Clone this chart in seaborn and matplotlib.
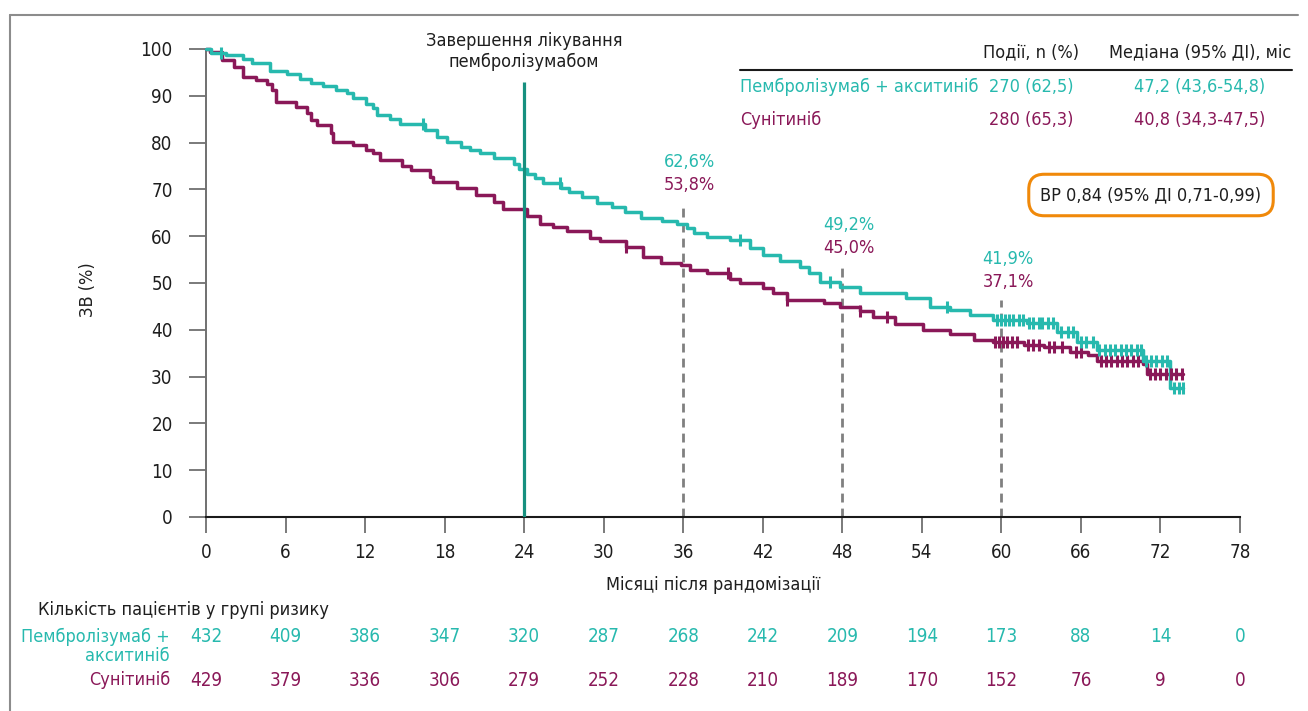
import numpy as np
import pandas as pd
import matplotlib
matplotlib.use("Agg")
import matplotlib.pyplot as plt
import matplotlib.transforms as mtransforms
from matplotlib import font_manager as fm
from matplotlib.lines import Line2D
import seaborn as sns

# ---------------- data ----------------
arm_names = ["Пембролізумаб + акситиніб", "Сунітиніб"]

pa_times = [0, 0.4, 1.5, 2.8, 3.5, 4.8, 6.1, 7.1, 7.9, 8.85, 9.8, 10.6, 11.1, 12.1, 12.6,
            12.9, 13.9, 14.6, 16.5, 17.4, 18.2, 19.2, 19.9, 20.7, 21.7, 23.2, 23.6, 24.2,
            24.8, 25.4, 26.8, 27.4, 28.4, 29.5, 30.6, 31.6, 32.8, 34.4, 35.5, 36.3, 36.8,
            37.8, 39.5, 41.0, 42.0, 43.3, 44.8, 45.5, 46.3, 47.8, 49.3, 52.8, 54.6, 56.1,
            57.6, 59.4, 61.9, 64.2, 65.7, 67.2, 70.7, 72.7]
pa_surv = [100, 99.2, 98.7, 97.8, 97.0, 95.2, 94.6, 93.5, 92.7, 92.0, 91.2, 90.5, 89.5, 88.3,
           87.3, 86.0, 85.0, 83.9, 82.7, 81.2, 80.1, 79.1, 78.4, 77.7, 76.7, 75.5, 74.4, 73.2,
           72.5, 71.3, 70.3, 69.5, 68.4, 67.0, 66.3, 65.2, 63.8, 63.2, 62.6, 61.8, 60.6,
           59.9, 59.2, 57.5, 56.0, 54.6, 53.5, 52.2, 50.2, 49.2, 47.8, 46.8, 44.9, 44.2,
           43.2, 42.1, 41.4, 39.6, 37.5, 35.7, 33.3, 27.6]
pa_censor = [1.1, 16.4, 26.7, 40.3, 47.1, 55.9, 59.7, 60.0, 60.3, 60.6, 60.9, 61.3, 61.6,
             62.1, 62.4, 62.8, 63.1, 63.5, 63.9, 64.5, 65.0, 65.4, 66.0, 66.4, 66.9, 67.4,
             67.8, 68.2, 68.6, 69.0, 69.4, 69.8, 70.2, 70.5, 70.9, 71.3, 71.7, 72.1, 72.5,
             73.0, 73.4, 73.7]

su_times = [0, 0.3, 1.2, 2.1, 2.8, 3.8, 4.6, 5.0, 5.3, 6.8, 7.6, 7.9, 8.4, 9.4, 9.6, 11.1,
            12.1, 12.6, 13.1, 14.8, 15.5, 16.9, 17.1, 18.9, 20.4, 21.7, 22.4, 24.2, 25.2,
            26.2, 27.2, 29.0, 29.7, 31.7, 33.0, 34.3, 35.8, 36.5, 37.8, 39.5, 40.3, 42.0,
            42.8, 43.8, 46.6, 47.8, 49.3, 50.3, 52.0, 54.1, 56.1, 57.9, 59.4, 61.7, 63.2,
            65.2, 66.5, 67.2, 70.7, 71.0]
su_surv = [100, 99.4, 97.6, 96.2, 94.0, 93.4, 92.5, 91.3, 88.7, 87.6, 86.4, 84.8, 83.8, 82.0,
           80.1, 79.5, 78.5, 77.8, 76.3, 75.0, 74.1, 72.6, 71.6, 70.3, 68.8, 67.3, 65.8,
           64.3, 62.6, 62.0, 61.1, 59.6, 59.0, 57.7, 55.6, 54.2, 53.8, 52.8, 52.1, 50.9,
           49.9, 48.9, 47.8, 46.4, 45.7, 44.9, 44.0, 42.7, 41.2, 40.0, 39.1, 37.8, 37.5,
           36.8, 36.3, 35.3, 34.6, 33.3, 32.6, 30.5]
su_censor = [31.7, 39.4, 43.8, 49.3, 51.4, 59.5, 59.8, 60.1, 60.4, 60.8, 61.2, 62.0, 62.4,
             62.8, 63.6, 64.0, 64.6, 65.6, 66.0, 67.5, 67.9, 68.3, 68.7, 69.1, 69.5, 69.9,
             70.3, 71.2, 71.6, 72.0, 72.4, 72.8, 73.2, 73.6]

followup_end = [73.7, 73.7]

landmark_months = [36, 48, 60]
landmark_pa = [62.6, 49.2, 41.9]
landmark_su = [53.8, 45.0, 37.1]
landmark_pa_lbl = ["62,6%", "49,2%", "41,9%"]
landmark_su_lbl = ["53,8%", "45,0%", "37,1%"]

stop_month = 24
stop_label = "Завершення лікування\nпембролізумабом"

events_lbl = ["270 (62,5)", "280 (65,3)"]
median_lbl = ["47,2 (43,6-54,8)", "40,8 (34,3-47,5)"]
hr_label = "ВР 0,84 (95% ДІ 0,71-0,99)"

risk_months = list(range(0, 79, 6))
risk_pa = [432, 409, 386, 347, 320, 287, 268, 242, 209, 194, 173, 88, 14, 0]
risk_su = [429, 379, 336, 306, 279, 252, 228, 210, 189, 170, 152, 76, 9, 0]

x_ticks = list(range(0, 79, 6))
y_ticks = list(range(0, 101, 10))

# ---------------- style ----------------
TEAL = "#27b9ae"
PURPLE = "#8a1858"
DARKTEAL = "#17907f"
ORANGE = "#f0890a"
GREY = "#808080"
TXT = "#1e1e1e"

sns.set_theme(style="white")

# pick a condensed face if one is installed, otherwise a narrow-ish sans
COND = ("condensed", "semi-condensed", "extra-condensed", "ultra-condensed")
pref = ["DejaVu Sans", "Liberation Sans Narrow", "Roboto Condensed", "Noto Sans",
        "Open Sans", "Roboto", "Lato", "Inter"]
cond_fonts = [f for f in fm.fontManager.ttflist
              if (str(f.stretch) in COND or "Narrow" in f.name or "Condensed" in f.name)
              and "Mono" not in f.name and "Serif" not in f.name]
cond_fonts.sort(key=lambda f: pref.index(f.name) if f.name in pref else 99)
if cond_fonts:
    main_font = cond_fonts[0].name
    plt.rcParams["font.stretch"] = cond_fonts[0].stretch
    FS = 13
else:
    main_font = "Roboto"
    FS = 12.5
plt.rcParams["font.family"] = [main_font, "DejaVu Sans"]

W, H = 1308, 711
fx = lambda px: px / W
fy = lambda py: 1 - py / H

fig = plt.figure(figsize=(W / 100, H / 100), dpi=100)
ax = fig.add_axes([fx(206), fy(517), (1240 - 206) / W, (517 - 49) / H])


def km_frame(times, surv, end, arm):
    t = list(times) + [end]
    s = list(surv) + [surv[-1]]
    return pd.DataFrame({"month": t, "surv": s, "arm": arm})


def censor_frame(times, surv, ctimes, arm):
    idx = np.searchsorted(np.asarray(times), np.asarray(ctimes), side="right") - 1
    return pd.DataFrame({"month": ctimes, "surv": np.asarray(surv)[idx], "arm": arm})


km = pd.concat([km_frame(pa_times, pa_surv, followup_end[0], arm_names[0]),
                km_frame(su_times, su_surv, followup_end[1], arm_names[1])])
cens = [censor_frame(pa_times, pa_surv, pa_censor, arm_names[0]),
        censor_frame(su_times, su_surv, su_censor, arm_names[1])]
palette = {arm_names[0]: TEAL, arm_names[1]: PURPLE}

for arm in [arm_names[1], arm_names[0]]:
    sns.lineplot(data=km[km["arm"] == arm], x="month", y="surv", color=palette[arm],
                 drawstyle="steps-post", estimator=None, sort=False, lw=2.5,
                 legend=False, ax=ax, clip_on=False, zorder=3)
for cdf, col in [(cens[1], PURPLE), (cens[0], TEAL)]:
    sns.scatterplot(data=cdf, x="month", y="surv", color=col, marker="|", s=80,
                    linewidth=2.2, legend=False, ax=ax, clip_on=False, zorder=4)

# treatment-stop line
ax.vlines(stop_month, 0, 93, color=DARKTEAL, lw=2.3, zorder=5)
ax.text(stop_month, 95.3, stop_label, ha="center", va="bottom", fontsize=FS,
        color=TXT, linespacing=1.2)

# landmark dashed lines and labels
for m, p, s, pl, sl in zip(landmark_months, landmark_pa, landmark_su,
                           landmark_pa_lbl, landmark_su_lbl):
    ax.vlines(m, 0, p + 4.5, color=GREY, lw=2.0, linestyles=(0, (3.2, 2.2)), zorder=2)
    ax.text(m + 0.5, p + 8.3, sl, ha="center", va="center", fontsize=FS, color=PURPLE)
    ax.text(m + 0.5, p + 13.3, pl, ha="center", va="center", fontsize=FS, color=TEAL)

# axes styling
ax.set_xlim(0, 78)
ax.set_ylim(0, 100)
ax.set_xticks(x_ticks)
ax.set_yticks(y_ticks)
ax.set_xlabel("")
ax.set_ylabel("")
for sp in ["top", "right"]:
    ax.spines[sp].set_visible(False)
ax.spines["left"].set_color("#707070")
ax.spines["left"].set_linewidth(1.4)
ax.spines["bottom"].set_color("#1a1a1a")
ax.spines["bottom"].set_linewidth(1.5)
ax.tick_params(axis="y", direction="out", length=12, width=1.3, color="#707070",
               pad=12, labelsize=FS + 0.5, labelcolor=TXT, left=True)
ax.tick_params(axis="x", direction="out", length=11.5, width=1.3, color="#707070",
               pad=7, labelsize=FS + 0.5, labelcolor=TXT, bottom=True)
ax.grid(False)
ax.set_facecolor("none")

fig.text(fx(88), fy(290), "ЗВ (%)", rotation=90, ha="center", va="center",
         fontsize=FS, color=TXT)
fig.text(fx(713), fy(585), "Місяці після рандомізації", ha="center", va="center",
         fontsize=FS, color=TXT)

# legend table (top right)
fig.text(fx(1031), fy(52), "Події, n (%)", ha="center", va="center", fontsize=FS, color=TXT)
fig.text(fx(1200), fy(52), "Медіана (95% ДІ), міс", ha="center", va="center",
         fontsize=FS, color=TXT)
fig.add_artist(Line2D([fx(740), fx(1292)], [fy(70), fy(70)], color="#1a1a1a", lw=1.5,
                      transform=fig.transFigure))
for i, (name, ev, med) in enumerate(zip(arm_names, events_lbl, median_lbl)):
    yy = fy(87 + 33 * i)
    col = [TEAL, PURPLE][i]
    fig.text(fx(740), yy, name, ha="left", va="center", fontsize=FS, color=col)
    fig.text(fx(1031), yy, ev, ha="center", va="center", fontsize=FS, color=col)
    fig.text(fx(1200), yy, med, ha="center", va="center", fontsize=FS, color=col)

# hazard ratio box
fig.text(fx(1151), fy(195), hr_label, ha="center", va="center", fontsize=FS, color=TXT,
         bbox=dict(boxstyle="round,pad=0.65,rounding_size=0.85", fc="white",
                   ec=ORANGE, lw=2.2))

# risk table
fig.text(fx(38), fy(610), "Кількість пацієнтів у групі ризику", ha="left", va="center",
         fontsize=FS, color=TXT)
fig.text(fx(170), fy(637), "Пембролізумаб +", ha="right", va="center", fontsize=FS,
         color=TEAL)
fig.text(fx(170), fy(656), "акситиніб", ha="right", va="center", fontsize=FS,
         color=TEAL, linespacing=1.0)
fig.text(fx(170), fy(680), "Сунітиніб", ha="right", va="center", fontsize=FS,
         color=PURPLE)
trans = mtransforms.blended_transform_factory(ax.transData, fig.transFigure)
for m, a, b in zip(risk_months, risk_pa, risk_su):
    ax.text(m, fy(637), str(a), transform=trans, ha="center", va="center",
            fontsize=FS + 0.5, color=TEAL)
    ax.text(m, fy(680), str(b), transform=trans, ha="center", va="center",
            fontsize=FS + 0.5, color=PURPLE)

# outer frame (left and top edges)
fig.add_artist(Line2D([fx(10), fx(10)], [fy(15), 0], color="#8c8c8c", lw=1.5,
                      transform=fig.transFigure))
fig.add_artist(Line2D([fx(10), fx(1298)], [fy(15), fy(15)], color="#8c8c8c", lw=1.5,
                      transform=fig.transFigure))

fig.savefig("out.png", dpi=100)
